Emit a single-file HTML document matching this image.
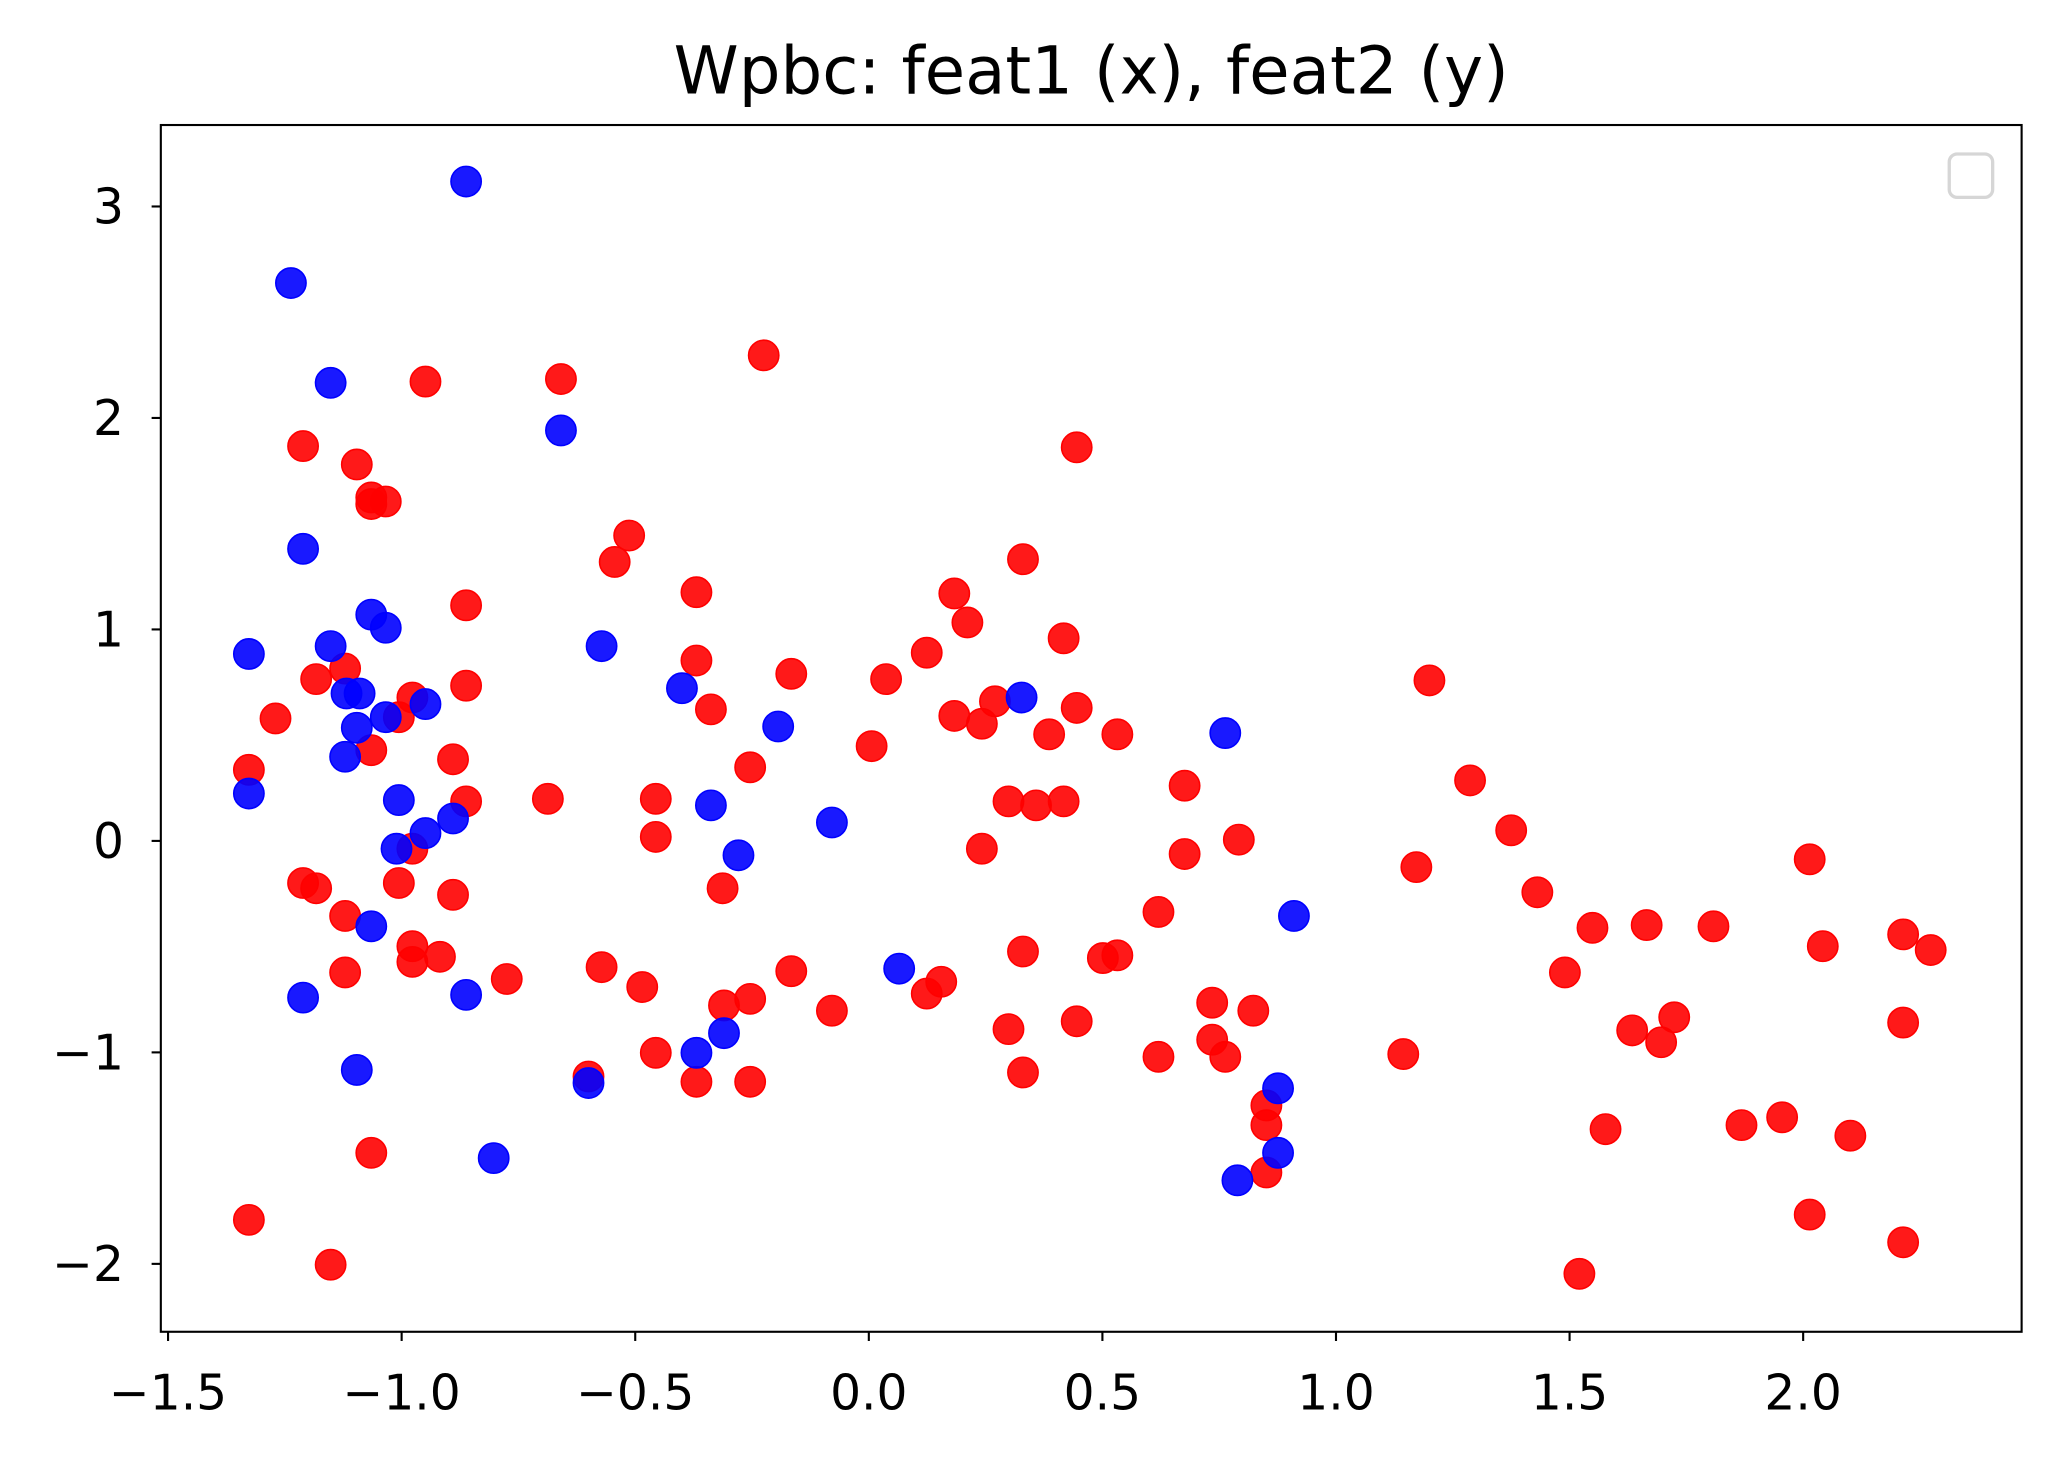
<!DOCTYPE html>
<html><head><meta charset="utf-8"><style>
html,body{margin:0;padding:0;background:#fff;}
svg{display:block;font-family:"DejaVu Sans","Liberation Sans",sans-serif;}
</style></head><body>
<svg id="chart" width="2064" height="1466" viewBox="0 0 1568 1114" xmlns="http://www.w3.org/2000/svg">
<rect width="1568" height="1114" fill="#fff"/>
<text x="829" y="71" font-size="50" text-anchor="middle" fill="#000">Wpbc: feat1 (x), feat2 (y)</text>
<g id="marks"></g>
<g id="axes"></g>
<rect x="122" y="95" width="1414" height="917" fill="none" stroke="#000" stroke-width="1.6"/>
<rect x="1481" y="117" width="33" height="33" rx="6" fill="#fff" fill-opacity="0.8" stroke="#d6d6d6" stroke-width="2.5"/>
</svg>
<script>
const xTicks=[-1.5,-1.0,-0.5,0.0,0.5,1.0,1.5,2.0];
const xTickLabels=["−1.5","−1.0","−0.5","0.0","0.5","1.0","1.5","2.0"];
const yTicks=[-2,-1,0,1,2,3];
const yTickLabels=["−2","−1","0","1","2","3"];
const blueX=[-1.327,-1.327,-1.237,-1.152,-1.211,-1.152,-1.065,-1.034,-1.118,-1.090,-1.096,-1.034,-1.121,-1.006,-0.949,-1.011,-0.949,-0.890,-1.065,-1.211,-1.096,-0.862,-0.862,-0.803,-0.659,-0.572,-0.400,-0.338,-0.194,-0.279,-0.310,-0.369,-0.600,-0.079,0.065,0.327,0.763,0.910,0.876,0.876,0.789];
const blueY=[0.884,0.224,2.638,2.166,1.381,0.921,1.070,1.008,0.697,0.697,0.535,0.585,0.398,0.193,0.037,-0.037,0.647,0.106,-0.404,-0.741,-1.083,-0.728,3.118,-1.500,1.941,0.921,0.722,0.168,0.541,-0.068,-0.909,-1.002,-1.145,0.087,-0.604,0.678,0.510,-0.355,-1.170,-1.475,-1.605];
const redX=[-1.327,-1.152,-1.327,-1.270,-1.183,-1.121,-1.211,-1.096,-1.065,-1.034,-1.065,-0.949,-1.065,-1.006,-0.977,-0.862,-0.862,-0.890,-0.862,-0.977,-1.211,-1.183,-1.121,-1.121,-1.006,-0.890,-0.977,-0.977,-0.918,-0.775,-1.065,-0.687,-0.659,-0.513,-0.544,-0.369,-0.369,-0.338,-0.456,-0.456,-0.254,-0.166,-0.225,-0.313,-0.310,-0.254,-0.572,-0.485,-0.166,-0.456,-0.600,-0.369,-0.254,-0.079,0.006,0.037,0.124,0.183,0.211,0.183,0.242,0.270,0.330,0.299,0.358,0.417,0.386,0.417,0.445,0.445,0.532,0.242,0.124,0.155,0.299,0.330,0.330,0.445,0.501,0.532,0.620,0.676,0.676,0.792,0.620,0.735,0.735,0.763,0.823,0.851,0.851,0.851,1.144,1.172,1.200,1.287,1.375,1.431,1.490,1.549,1.577,1.634,1.665,1.696,1.724,1.808,1.868,1.955,2.014,2.042,2.101,2.014,1.521,2.214,2.273,2.214,2.214];
const redY=[-1.792,-2.004,0.336,0.579,0.765,0.815,1.867,1.780,1.624,1.605,1.593,2.172,0.429,0.585,0.678,1.114,0.734,0.386,0.187,-0.037,-0.199,-0.224,-0.355,-0.622,-0.199,-0.255,-0.498,-0.572,-0.548,-0.653,-1.475,0.199,2.184,1.444,1.319,1.176,0.853,0.622,0.199,0.019,0.348,0.790,2.296,-0.224,-0.778,-0.747,-0.597,-0.691,-0.616,-1.002,-1.114,-1.139,-1.139,-0.803,0.448,0.765,0.890,1.170,1.033,0.591,0.554,0.660,1.332,0.187,0.168,0.187,0.504,0.958,0.629,1.861,0.504,-0.037,-0.722,-0.666,-0.890,-0.523,-1.095,-0.853,-0.554,-0.541,-0.336,0.261,-0.062,0.006,-1.021,-0.765,-0.940,-1.021,-0.803,-1.251,-1.344,-1.568,-1.008,-0.124,0.759,0.286,0.050,-0.243,-0.622,-0.411,-1.363,-0.896,-0.398,-0.952,-0.834,-0.404,-1.344,-1.307,-0.087,-0.498,-1.394,-1.767,-2.047,-0.442,-0.516,-0.859,-1.898];
const NS="http://www.w3.org/2000/svg";
function sx(v){return 660+355*v;}
function sy(v){return 639-160.7*v;}
const marks=document.getElementById('marks');
const axes=document.getElementById('axes');
function drawSeries(xs,ys,col,name){
  for(let i=0;i<xs.length;i++){
    const c=document.createElementNS(NS,'circle');
    c.setAttribute('cx',sx(xs[i]));c.setAttribute('cy',sy(ys[i]));c.setAttribute('r',11.5);
    c.setAttribute('fill',col);c.setAttribute('fill-opacity','0.9');c.setAttribute('stroke',col);c.setAttribute('stroke-width','1.2');
    
    
    marks.appendChild(c);
  }
}
drawSeries(redX,redY,'#ff0000','red-point');
drawSeries(blueX,blueY,'#0000ff','blue-point');
xTicks.forEach((t,i)=>{
  const x=sx(t);
  const l=document.createElementNS(NS,'line');
  l.setAttribute('x1',x);l.setAttribute('x2',x);l.setAttribute('y1',1012);l.setAttribute('y2',1019);l.setAttribute('stroke','#000');l.setAttribute('stroke-width','1.6');
  
  
  axes.appendChild(l);
  const tx=document.createElementNS(NS,'text');
  tx.setAttribute('x',x);tx.setAttribute('y',1071);tx.setAttribute('font-size','37');tx.setAttribute('text-anchor','middle');
  tx.textContent=xTickLabels[i];
  
  
  axes.appendChild(tx);
});
yTicks.forEach((t,i)=>{
  const y=sy(t);
  const l=document.createElementNS(NS,'line');
  l.setAttribute('x1',115);l.setAttribute('x2',122);l.setAttribute('y1',y);l.setAttribute('y2',y);l.setAttribute('stroke','#000');l.setAttribute('stroke-width','1.6');
  
  
  axes.appendChild(l);
  const tx=document.createElementNS(NS,'text');
  tx.setAttribute('x',94);tx.setAttribute('y',y+13);tx.setAttribute('font-size','37');tx.setAttribute('text-anchor','end');
  tx.textContent=yTickLabels[i];
  
  
  axes.appendChild(tx);
});
</script>
</body></html>
